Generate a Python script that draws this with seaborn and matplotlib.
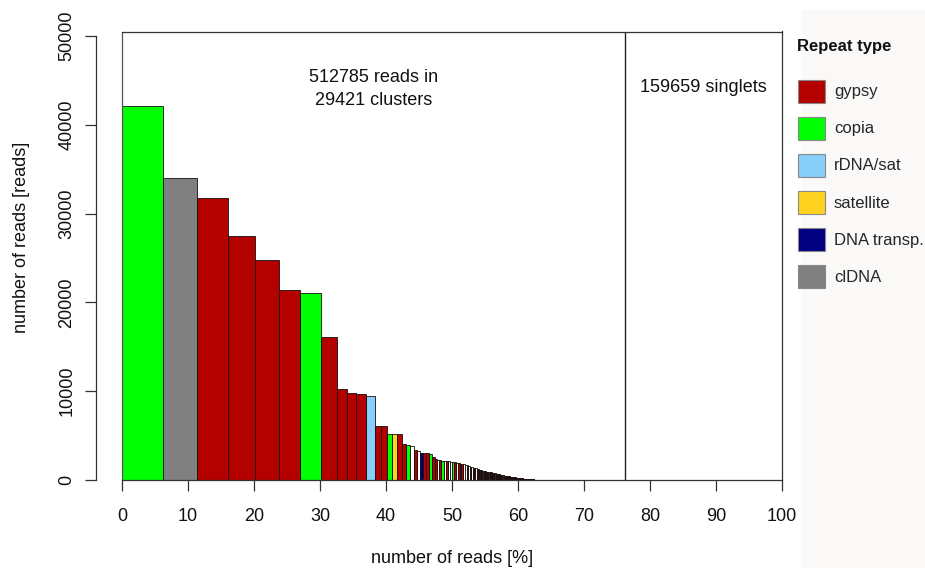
import numpy as np
import pandas as pd
import matplotlib
matplotlib.use("Agg")
import matplotlib.pyplot as plt
import matplotlib.patches as mpatches
import seaborn as sns

sns.set_theme(style="white")
plt.rcParams['font.family'] = ['Liberation Sans', 'DejaVu Sans']

# totals written on the chart
cluster_reads = 512785
n_clusters = 29421
singlet_reads = 159659
total_reads = cluster_reads + singlet_reads

# largest clusters (reads per cluster)
main_reads = [42150, 34040, 31790, 27510, 24775, 21400, 21020, 16140, 10210, 9760,
              9650, 9425, 6115, 6050, 5180, 5180, 5180, 4020, 3950, 3830,
              3380, 3300, 3075, 3030, 3000, 2900, 2625, 2330, 2250, 2200,
              2180, 2150, 2120, 2100, 2080, 2060, 2000, 1950, 1900, 1850,
              1800, 1750, 1700, 1650, 1600, 1500, 1450, 1400, 1350, 1300,
              1250, 1200, 1150]
main_types = ['copia', 'clDNA', 'gypsy', 'gypsy', 'gypsy', 'gypsy', 'copia', 'gypsy', 'gypsy', 'gypsy',
              'gypsy', 'rDNA/sat', 'gypsy', 'gypsy', 'copia', 'satellite', 'gypsy', 'gypsy', 'copia', 'none',
              'gypsy', 'none', 'DNA transp.', 'gypsy', 'gypsy', 'copia', 'gypsy', 'gypsy', 'none', 'gypsy',
              'copia', 'none', 'gypsy', 'none', 'none', 'copia', 'gypsy', 'none', 'gypsy', 'none',
              'gypsy', 'none', 'none', 'gypsy', 'none', 'gypsy', 'none', 'gypsy', 'gypsy', 'none',
              'gypsy', 'gypsy', 'none']

# small clusters in the tail: cluster size and how many clusters of that size
tail_sizes = [1100, 1050, 1000, 950, 900, 850, 800, 750, 700, 650, 600, 550, 500, 450, 400,
              350, 320, 290, 260, 230, 200, 170, 140, 110, 90, 70, 50, 35, 25]
tail_counts = [2, 2, 2, 2, 2, 2, 3, 3, 3, 3, 3, 4, 4, 5, 5,
               6, 6, 7, 7, 8, 9, 10, 12, 15, 40, 60, 80, 200, 250]
tail_types = ['gypsy', 'none', 'gypsy', 'gypsy', 'none', 'gypsy', 'gypsy', 'none', 'gypsy', 'gypsy',
              'gypsy', 'none', 'gypsy', 'gypsy', 'gypsy', 'gypsy', 'gypsy', 'gypsy', 'gypsy', 'gypsy',
              'gypsy', 'gypsy', 'gypsy', 'gypsy', 'gypsy', 'gypsy', 'gypsy', 'gypsy', 'gypsy']

repeat_types = ['gypsy', 'copia', 'rDNA/sat', 'satellite', 'DNA transp.', 'clDNA']
repeat_colors = ['#B50000', '#00FF00', '#87CEFA', '#FFD21F', '#000080', '#808080']

reads = np.concatenate([main_reads, np.repeat(tail_sizes, tail_counts)]).astype(float)
types = list(main_types) + list(np.repeat(tail_types, tail_counts))

# bar width = share of all reads in %
widths = reads / total_reads * 100
edges = np.concatenate([[0], np.cumsum(widths)])
df = pd.DataFrame({"pos": (edges[:-1] + edges[1:]) / 2, "reads": reads, "type": types})

palette = dict(zip(repeat_types, repeat_colors))
palette['none'] = 'white'

fig = plt.figure(figsize=(9.25, 5.68), dpi=100)
fig.patches.append(mpatches.Rectangle((802 / 925, 0), 1, 1 - 10 / 568, transform=fig.transFigure,
                                      color='#faf9f7', zorder=-5))
ax = fig.add_axes([122 / 925, 88 / 568, 660 / 925, 448.5 / 568])

sns.histplot(data=df, x="pos", weights="reads", bins=list(edges), hue="type",
             hue_order=repeat_types + ['none'], palette=palette, multiple='layer', alpha=1,
             edgecolor='#111111', linewidth=0.6, legend=False, ax=ax)

ax.set_xlim(0, 100)
ax.set_ylim(0, 50500)
ax.set_xticks(range(0, 101, 10))
ax.set_yticks(range(0, 50001, 10000))

# singlets divider and box edge
ax.axvline(cluster_reads / total_reads * 100, color='#222222', lw=1)
ax.axvline(0, color='#555555', lw=0.9, clip_on=False)

ax.text(cluster_reads / total_reads * 50, 44050, f"{cluster_reads} reads in\n{n_clusters} clusters",
        ha='center', va='center', fontsize=13, linespacing=1.45, color='#111111')
ax.text((cluster_reads / total_reads * 100 + 100) / 2, 44200, f"{singlet_reads} singlets",
        ha='center', va='center', fontsize=13, color='#111111')

for side in ['top', 'right', 'bottom', 'left']:
    ax.spines[side].set_color('#333333')
    ax.spines[side].set_linewidth(0.9)
ax.spines['left'].set_position(('outward', 18.7))
ax.spines['left'].set_bounds(0, 50000)

ax.tick_params(axis='both', direction='out', length=8, width=0.9, color='#333333',
               labelsize=13, labelcolor='#111111')
ax.tick_params(axis='x', bottom=True, pad=12)
ax.tick_params(axis='y', left=True, pad=7, labelrotation=90)
for lab in ax.get_yticklabels():
    lab.set_va('center')

ax.set_xlabel("number of reads [%]", fontsize=13, color='#111111')
ax.set_ylabel("number of reads [reads]", fontsize=13, color='#111111')
ax.xaxis.set_label_coords(0.5, -0.155)
ax.yaxis.set_label_coords(-0.14, 0.542)

handles = [mpatches.Patch(facecolor=c, edgecolor='#888888', linewidth=0.8, label=t)
           for t, c in zip(repeat_types, repeat_colors)]
fig.legend(handles=handles, loc='upper left', bbox_to_anchor=(798 / 925, 1 - 79.5 / 568),
           frameon=False, fontsize=12, handlelength=1.6, handleheight=1.75,
           handletextpad=0.55, labelspacing=0.84, borderpad=0, borderaxespad=0)
fig.text(797 / 925, 1 - 46 / 568, "Repeat type", fontsize=12, fontweight='bold',
         ha='left', va='center', color='#111111')

fig.savefig("out.png", dpi=100)
